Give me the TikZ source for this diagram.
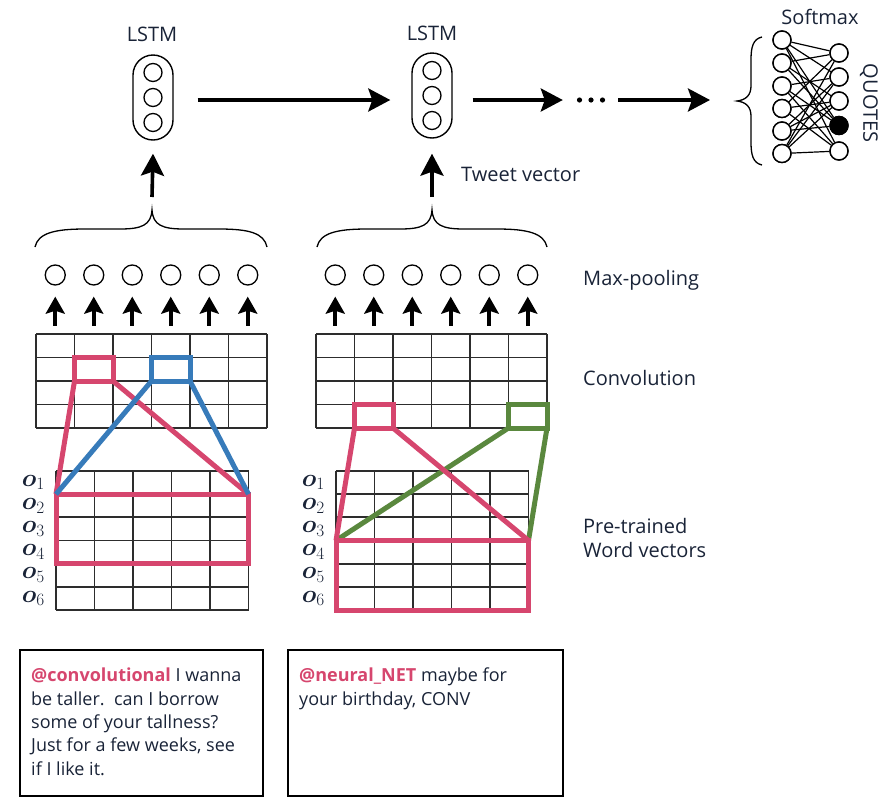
\documentclass[tikz,border=0pt]{standalone}
\usepackage{amsmath}
\usepackage{fontspec}
\setmainfont{Open Sans}
\usetikzlibrary{arrows.meta}
\definecolor{pinkred}{RGB}{214,70,110}
\definecolor{myblue}{RGB}{55,123,186}
\definecolor{mygreen}{RGB}{90,136,62}
\definecolor{txt}{RGB}{25,35,55}
\definecolor{gridc}{RGB}{45,45,45}
\tikzset{
  lbl/.style={font=\fontsize{20}{24}\selectfont, text=txt, inner sep=0pt},
  capsule/.style={draw, line width=1.4pt, rounded corners=20pt, minimum width=40pt, minimum height=85pt, inner sep=0pt},
  cell/.style={circle, draw, line width=1.3pt, minimum size=18pt, inner sep=0pt},
  pool/.style={circle, draw, line width=1.3pt, minimum size=20pt, inner sep=0pt},
  smx/.style={circle, draw, line width=1.4pt, minimum size=18pt, inner sep=0pt, fill=white},
  bigarrow/.style={line width=3.6pt, -{Stealth[length=22pt,width=23pt,inset=4pt]}},
  smallarrow/.style={line width=4pt, -{Stealth[length=17pt,width=19pt,inset=3pt]}},
  gridline/.style={gridc, line width=1.8pt},
  hl/.style={line width=5pt, line join=miter},
  brace/.style={line width=1.3pt},
  tweet/.style={draw, line width=1.5pt, minimum width=243pt, minimum height=146pt, inner sep=0pt},
  tweettext/.style={font=\fontsize{18}{23.3}\selectfont, text=txt, align=left, inner sep=0pt, anchor=north west},
  olab/.style={font=\fontsize{23}{24}\selectfont, text=txt, anchor=east, inner sep=0pt}
}
\begin{document}
\begin{tikzpicture}[x=1pt,y=-1pt]
\useasboundingbox (0,0) rectangle (886,809);

% ---------- LSTM row ----------
\node[lbl, anchor=base] (lstmlab1) at (152,41) {LSTM};
\node[lbl, anchor=base] (lstmlab2) at (432,40) {LSTM};
\node[capsule] (lstm1) at (153,97.5) {};
\node[capsule] (lstm2) at (432,95.5) {};
\foreach \k/\dy in {a/-25,b/0,c/25}{
  \node[cell] (lstm1\k) at ([yshift=-\dy pt]lstm1.center) {};
  \node[cell] (lstm2\k) at ([yshift=-\dy pt]lstm2.center) {};
}
\node[inner sep=0pt, minimum width=30pt, minimum height=6pt] (dots) at (591,100) {};
\foreach \dx in {-11.5,0,11.5}
  \fill ([xshift=\dx pt]dots.center) circle (2.6pt);

\coordinate (l1e) at (lstm1.east |- dots.center);
\coordinate (l2w) at (lstm2.west |- dots.center);
\coordinate (l2e) at (lstm2.east |- dots.center);
\draw[bigarrow] ([xshift=24pt]l1e) -- ([xshift=-21pt]l2w);
\draw[bigarrow] ([xshift=20pt]l2e) -- ([xshift=-13pt]dots.west);
\coordinate (smxin) at (710,100);
\draw[bigarrow] ([xshift=12pt]dots.east) -- (smxin);

% ---------- Softmax ----------
\node[lbl, anchor=base] (smxlab) at (820,24) {Softmax};
\foreach \i/\y in {1/40,2/63,3/86,4/108.5,5/131,6/153.5}
  \node[smx] (L\i) at (782,\y) {};
\foreach \i/\y in {1/53,2/77,3/101,4/125.5,5/151}
  \node[smx] (R\i) at (839,\y) {};
\foreach \a/\b in {1/1,2/1,4/1,6/1, 1/2,3/2,5/2,6/2, 2/3,4/3,5/3,6/3, 1/4,2/4,3/4,5/4, 1/5,3/5,4/5,6/5}
  \draw[line width=1.2pt] (L\a) -- (R\b);
\foreach \i/\y in {1/40,2/63,3/86,4/108.5,5/131,6/153.5}
  \node[smx] at (782,\y) {};
\foreach \i/\y in {1/53,2/77,3/101,5/151}
  \node[smx] at (839,\y) {};
\node[smx, fill=black] at (839,125.5) {};
\node[lbl, rotate=-90] (quotes) at (869,103) {QUOTES};
\draw[brace] (762,37) .. controls (753,39) and (751,47) .. (751,60) -- (751,86)
  .. controls (751,95) and (746,100) .. (737,101)
  .. controls (746,102) and (751,107) .. (751,116) -- (751,142)
  .. controls (751,155) and (753,163) .. (762,165);

% ---------- braces and tweet-vector arrows ----------
\draw[brace] (35,247) .. controls (38,233) and (55,229) .. (85,229) -- (120,229)
  .. controls (142,229) and (151,225) .. (152,210)
  .. controls (153,225) and (162,229) .. (184,229) -- (219,229)
  .. controls (249,229) and (264,233) .. (267,247);
\draw[brace] (317,247) .. controls (320,233) and (337,229) .. (367,229) -- (400,229)
  .. controls (422,229) and (431,225) .. (432,210)
  .. controls (433,225) and (442,229) .. (464,229) -- (497,229)
  .. controls (527,229) and (544,233) .. (547,247);
\coordinate (tip1) at (152,197);
\coordinate (tip2) at (432,197);
\draw[bigarrow] (tip1) -- ([yshift=-13pt]lstm1.south);
\draw[bigarrow] (tip2) -- ([yshift=-15pt]lstm2.south);
\node[lbl, anchor=base west] (tweetvec) at (461,181) {Tweet vector};

% ---------- max pooling ----------
\foreach \i in {1,...,6}{
  \node[pool] (mpa\i) at ({36+38.5*(\i-0.5)},275) {};
  \node[pool] (mpb\i) at ({316+38.5*(\i-0.5)},275) {};
  \draw[smallarrow] ([yshift=-40pt]mpa\i.south) -- ([yshift=-11pt]mpa\i.south);
  \draw[smallarrow] ([yshift=-40pt]mpb\i.south) -- ([yshift=-11pt]mpb\i.south);
}

% ---------- convolution grids ----------
\foreach \x in {36,316}{
  \foreach \c in {0,...,6} \draw[gridline] ({\x+38.5*\c},334) -- ({\x+38.5*\c},428);
  \foreach \r in {0,...,4} \draw[gridline] (\x,{334+23.5*\r}) -- ({\x+231},{334+23.5*\r});
}
% ---------- word-vector grids ----------
\foreach \x in {56,336}{
  \foreach \c in {0,...,5} \draw[gridline] ({\x+38.5*\c},471) -- ({\x+38.5*\c},610);
  \foreach \r in {0,...,6} \draw[gridline] (\x,{471+23.17*\r}) -- ({\x+192.5},{471+23.17*\r});
}
\foreach \i in {1,...,6}{
  \node[olab] (oa\i) at (45,{471+23.17*(\i-0.5)}) {$\boldsymbol{o}_{\i}$};
  \node[olab] (ob\i) at (325,{471+23.17*(\i-0.5)}) {$\boldsymbol{o}_{\i}$};
}

% ---------- highlights, left ----------
\draw[hl, pinkred] (56,494.2) rectangle (248.5,563.5);
\draw[hl, pinkred] (74.5,357.5) rectangle (113,381);
\draw[hl, pinkred] (74.5,381) -- (56,494.2);
\draw[hl, pinkred] (113,381) -- (248.5,494.2);
\draw[hl, myblue] (151.5,357.5) rectangle (190,381);
\draw[hl, myblue] (151.5,381) -- (56,494.2);
\draw[hl, myblue] (190,381) -- (248.5,494.2);

% ---------- highlights, right ----------
\draw[hl, mygreen] (508.5,404.5) rectangle (547,428);
\draw[hl, mygreen] (508.5,428) -- (336,540.5);
\draw[hl, mygreen] (547,428) -- (528.5,540.5);
\draw[hl, pinkred] (336,540.5) rectangle (528.5,610);
\draw[hl, pinkred] (354.5,404.5) rectangle (393,428);
\draw[hl, pinkred] (354.5,428) -- (336,540.5);
\draw[hl, pinkred] (393,428) -- (528.5,540.5);

% ---------- side labels ----------
\node[lbl, anchor=base west] (lmp) at (583,285) {Max-pooling};
\node[lbl, anchor=base west] (lconv) at (583,385) {Convolution};
\node[lbl, anchor=base west] (lpre) at (583,533) {Pre-trained};
\node[lbl, anchor=base west] (lword) at (583,557) {Word vectors};

% ---------- tweets ----------
\node[tweet, anchor=north west] (tw1) at (19,649) {};
\node[tweet, anchor=north west, minimum width=275pt] (tw2) at (287,649) {};
\node[tweettext] (tw1t) at (31,668) {\textbf{\textcolor{pinkred}{@convolutional}} I wanna\\be taller.~~can I borrow\\some of your tallness?\\Just for a few weeks, see\\if I like it.};
\node[tweettext] (tw2t) at (299,668) {\textbf{\textcolor{pinkred}{@neural\_NET}} maybe for\\your birthday, CONV};
\end{tikzpicture}
\end{document}
